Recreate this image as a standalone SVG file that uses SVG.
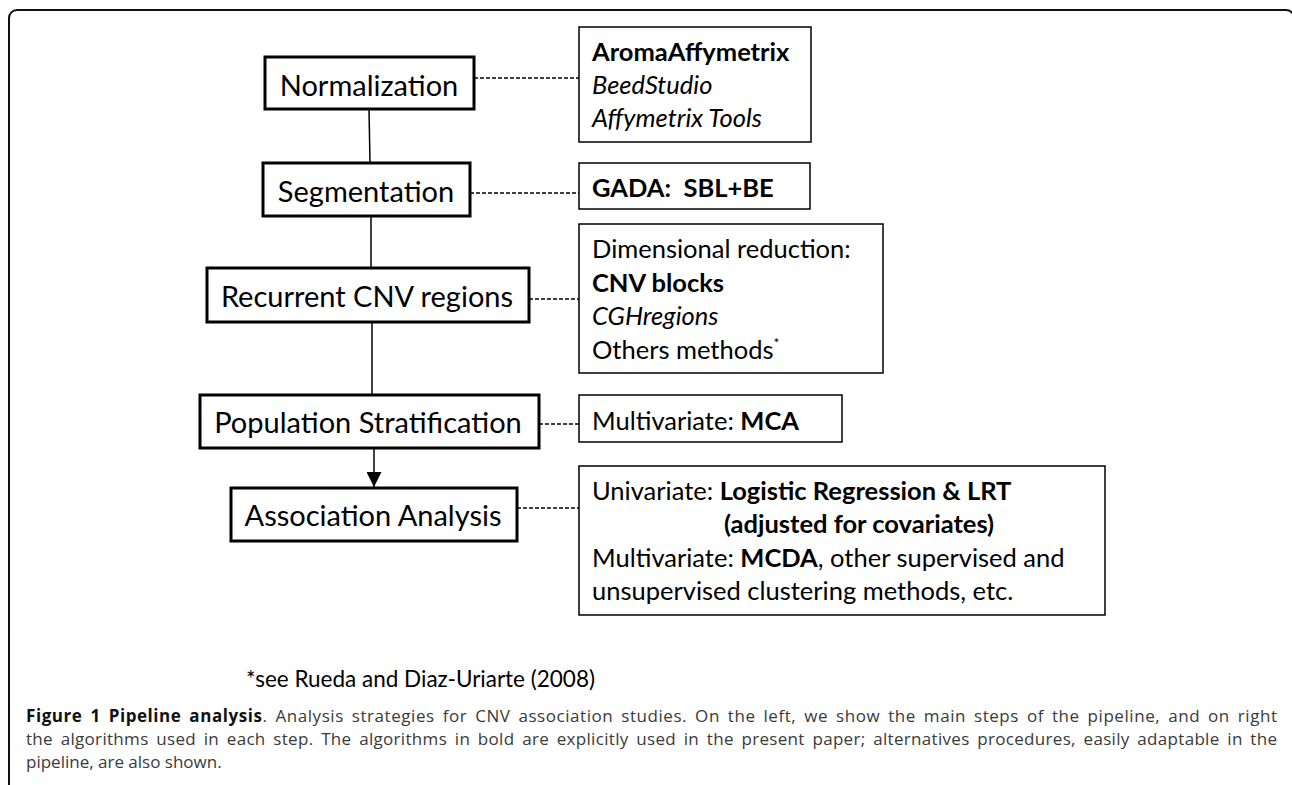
<svg xmlns="http://www.w3.org/2000/svg" width="1292" height="785" viewBox="0 0 1292 785">
<style>
.step{fill:#fff;stroke:#000;stroke-width:3}
.alg{fill:#fff;stroke:#000;stroke-width:1.5}
.st{font-family:Lato,"Liberation Sans",sans-serif;font-size:29px;fill:#000;text-anchor:middle}
.at{font-family:Lato,"Liberation Sans",sans-serif;font-size:25.5px;fill:#000}
.fn{font-family:Lato,"Liberation Sans",sans-serif;font-size:22.5px;fill:#000}
.b{font-weight:bold}
.i{font-style:italic}
.solid{stroke:#000;stroke-width:1.5;fill:none}
.dash{stroke:#000;stroke-width:1.3;stroke-dasharray:4 2;fill:none}
.cap{font-family:"Open Sans","Liberation Sans",sans-serif;font-size:17px;fill:#3a3a3a;word-spacing:3px}
.capb{font-weight:bold;fill:#111}
</style>
<defs>
<marker id="arr" viewBox="0 0 10 10" refX="10" refY="5" markerWidth="15" markerHeight="15" markerUnits="userSpaceOnUse" orient="auto">
<path d="M0,0 L10,5 L0,10 z" fill="#000"/>
</marker>
</defs>
<rect x="9" y="10" width="1285" height="1000" rx="8" fill="none" stroke="#111" stroke-width="2"/>
<g id="connectors">
<line class="solid" x1="369" y1="109" x2="370" y2="163"/>
<line class="solid" x1="371" y1="216" x2="371" y2="268"/>
<line class="solid" x1="372" y1="322" x2="372" y2="395"/>
<line class="solid" x1="374" y1="448" x2="374" y2="487" marker-end="url(#arr)"/>
<line class="dash" x1="474" y1="78" x2="579" y2="78"/>
<line class="dash" x1="470" y1="193" x2="579" y2="193"/>
<line class="dash" x1="529" y1="299" x2="579" y2="299"/>
<line class="dash" x1="539" y1="424" x2="579" y2="424"/>
<line class="dash" x1="517" y1="508" x2="579" y2="508"/>
</g>
<g id="normalization">
<rect class="step" x="265" y="57" width="209" height="52"/>
<text class="st" x="369" y="96">Normalization</text>
</g>
<g id="segmentation">
<rect class="step" x="263" y="163" width="207" height="53"/>
<text class="st" x="366" y="202">Segmentation</text>
</g>
<g id="recurrent">
<rect class="step" x="207" y="268" width="322" height="54"/>
<text class="st" x="367" y="307">Recurrent CNV regions</text>
</g>
<g id="population">
<rect class="step" x="200" y="395" width="339" height="53"/>
<text class="st" x="368" y="433">Population Stratification</text>
</g>
<g id="association">
<rect class="step" x="231" y="488" width="286" height="53"/>
<text class="st" x="373" y="526">Association Analysis</text>
</g>
<g id="alg-normalization">
<rect class="alg" x="579" y="27" width="232" height="115"/>
<text class="at b" x="592" y="61">AromaAffymetrix</text>
<text class="at i" x="592" y="94">BeedStudio</text>
<text class="at i" x="592" y="127">Affymetrix Tools</text>
</g>
<g id="alg-segmentation">
<rect class="alg" x="579" y="163" width="231" height="46"/>
<text class="at b" x="592" y="197" xml:space="preserve">GADA:  SBL+BE</text>
</g>
<g id="alg-recurrent">
<rect class="alg" x="579" y="224" width="304" height="149"/>
<text class="at" x="592" y="258">Dimensional reduction:</text>
<text class="at b" x="592" y="292">CNV blocks</text>
<text class="at i" x="592" y="325">CGHregions</text>
<text class="at" x="592" y="359">Others methods<tspan font-size="14" dy="-11">*</tspan></text>
</g>
<g id="alg-population">
<rect class="alg" x="579" y="395" width="263" height="47"/>
<text class="at" x="592" y="430">Multivariate: <tspan class="b">MCA</tspan></text>
</g>
<g id="alg-association">
<rect class="alg" x="579" y="466" width="526" height="149"/>
<text class="at" x="592" y="500">Univariate: <tspan class="b">Logistic Regression &amp; LRT</tspan></text>
<text class="at b" x="724" y="533">(adjusted for covariates)</text>
<text class="at" x="592" y="567">Multivariate: <tspan class="b">MCDA</tspan>, other supervised and</text>
<text class="at" x="592" y="600">unsupervised clustering methods, etc.</text>
</g>
<text class="fn" x="246" y="687">*see Rueda and Diaz-Uriarte (2008)</text>
<text class="cap" x="26" y="722" textLength="1251" lengthAdjust="spacing"><tspan class="capb">Figure 1 Pipeline analysis</tspan>. Analysis strategies for CNV association studies. On the left, we show the main steps of the pipeline, and on right</text>
<text class="cap" x="26" y="745" textLength="1251" lengthAdjust="spacing">the algorithms used in each step. The algorithms in bold are explicitly used in the present paper; alternatives procedures, easily adaptable in the</text>
<text class="cap" x="26" y="768" style="word-spacing:0">pipeline, are also shown.</text>
</svg>
